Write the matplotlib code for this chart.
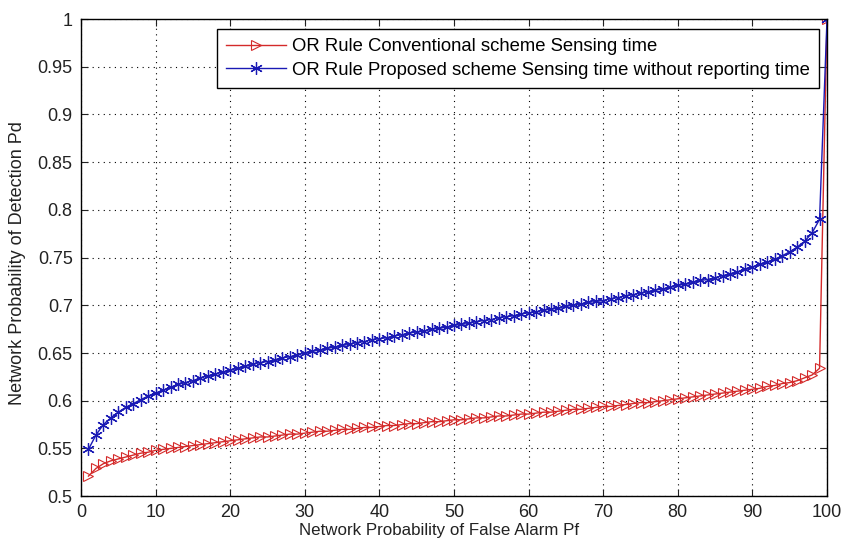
import matplotlib
matplotlib.use("Agg")
import matplotlib.pyplot as plt
import numpy as np

plt.rcParams['font.family'] = ['Liberation Sans', 'DejaVu Sans']

# false alarm axis (percent)
pf = list(range(1, 101))

pd_conventional = [
    0.521, 0.529, 0.534, 0.537, 0.539, 0.541, 0.543, 0.545, 0.546, 0.548,
    0.549, 0.550, 0.551, 0.552, 0.553, 0.554, 0.555, 0.556, 0.557, 0.558,
    0.559, 0.560, 0.561, 0.562, 0.562, 0.563, 0.564, 0.565, 0.565, 0.566,
    0.567, 0.568, 0.568, 0.569, 0.570, 0.570, 0.571, 0.572, 0.572, 0.573,
    0.574, 0.574, 0.575, 0.576, 0.576, 0.577, 0.578, 0.578, 0.579, 0.580,
    0.580, 0.581, 0.582, 0.582, 0.583, 0.584, 0.584, 0.585, 0.586, 0.586,
    0.587, 0.588, 0.588, 0.589, 0.590, 0.591, 0.591, 0.592, 0.593, 0.594,
    0.594, 0.595, 0.596, 0.597, 0.598, 0.598, 0.599, 0.600, 0.601, 0.602,
    0.603, 0.604, 0.605, 0.606, 0.607, 0.608, 0.609, 0.610, 0.611, 0.612,
    0.613, 0.615, 0.616, 0.618, 0.619, 0.621, 0.624, 0.627, 0.634, 1.000,
]

pd_proposed = [
    0.549, 0.564, 0.575, 0.582, 0.588, 0.593, 0.597, 0.601, 0.605, 0.608,
    0.611, 0.614, 0.617, 0.619, 0.621, 0.624, 0.626, 0.628, 0.630, 0.632,
    0.634, 0.636, 0.638, 0.640, 0.641, 0.643, 0.645, 0.646, 0.648, 0.650,
    0.652, 0.653, 0.655, 0.656, 0.658, 0.659, 0.661, 0.662, 0.664, 0.665,
    0.666, 0.668, 0.669, 0.671, 0.672, 0.673, 0.675, 0.676, 0.677, 0.679,
    0.680, 0.681, 0.683, 0.684, 0.685, 0.687, 0.688, 0.689, 0.691, 0.692,
    0.693, 0.695, 0.696, 0.697, 0.699, 0.700, 0.701, 0.703, 0.704, 0.705,
    0.707, 0.708, 0.710, 0.711, 0.713, 0.714, 0.716, 0.717, 0.719, 0.721,
    0.722, 0.724, 0.726, 0.727, 0.729, 0.731, 0.733, 0.735, 0.738, 0.740,
    0.743, 0.745, 0.748, 0.752, 0.756, 0.761, 0.767, 0.776, 0.790, 1.000,
]

x_ticks = list(range(0, 101, 10))
y_ticks = [0.5, 0.55, 0.6, 0.65, 0.7, 0.75, 0.8, 0.85, 0.9, 0.95, 1.0]
y_tick_labels = ['0.5', '0.55', '0.6', '0.65', '0.7', '0.75', '0.8', '0.85', '0.9', '0.95', '1']

fig = plt.figure(figsize=(8.42, 5.44), dpi=100)
ax = fig.add_axes([0.0962, 0.088, 0.886, 0.877])

ax.plot(pf, pd_conventional, color='#d42a2a', linewidth=1, marker='>',
        markersize=7.5, markerfacecolor='none', markeredgecolor='#d42a2a',
        markeredgewidth=0.8, label='OR Rule Conventional scheme Sensing time')
ax.plot(pf, pd_proposed, color='#1a1ab4', linewidth=1, marker=(6, 2, 0),
        markersize=9, markerfacecolor='#1a1ab4', markeredgecolor='#1a1ab4',
        markeredgewidth=0.9,
        label='OR Rule Proposed scheme Sensing time without reporting time')

ax.set_xlim(0, 100)
ax.set_ylim(0.5, 1.0)
ax.set_xticks(x_ticks)
ax.set_yticks(y_ticks)
ax.set_yticklabels(y_tick_labels)
ax.tick_params(direction='in', length=5, labelsize=13, colors='#222222',
               top=True, right=True, pad=6)
ax.grid(True, linestyle=(0, (1, 4)), color='black', linewidth=0.8)

ax.set_xlabel('Network Probability of False Alarm Pf', fontsize=12.2,
              color='#222222')
ax.xaxis.set_label_coords(0.48, -0.056)
ax.set_ylabel('Network Probability of Detection Pd', fontsize=13,
              color='#222222')
ax.yaxis.set_label_coords(-0.074, 0.488)

for s in ax.spines.values():
    s.set_linewidth(1)

leg = ax.legend(loc='upper right', bbox_to_anchor=(0.9895, 0.979), fontsize=13.3,
                fancybox=False, framealpha=1, edgecolor='black',
                handlelength=3.2, borderpad=0.5, labelspacing=0.35,
                handletextpad=0.35, borderaxespad=0)
leg.get_frame().set_linewidth(1)

fig.savefig('out.png', dpi=100)
